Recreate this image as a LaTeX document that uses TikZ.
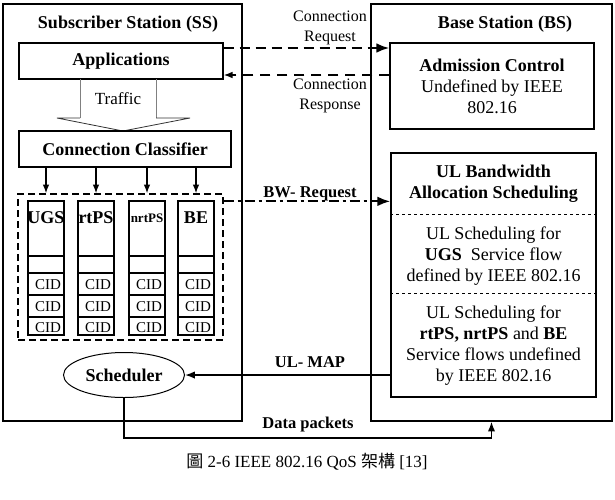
\documentclass[tikz,border=0pt]{standalone}
\usepackage{fontspec}
\setmainfont{Liberation Serif}
\newfontfamily\cjk{Noto Sans CJK TC}
\usetikzlibrary{arrows.meta}
\usetikzlibrary{shapes.geometric}

\tikzset{
  block/.style={draw, line width=1.3pt, inner sep=0pt, align=center},
  big/.style={font=\fontsize{18}{21}\selectfont, align=center},
  bigb/.style={font=\fontsize{18}{21}\selectfont\bfseries, align=center},
  lab/.style={font=\fontsize{16}{20}\selectfont, align=center},
  labb/.style={font=\fontsize{16.5}{20}\selectfont\bfseries},
  cid/.style={font=\fontsize{15}{15}\selectfont, inner sep=0pt}
}

\begin{document}
\begin{tikzpicture}[x=1pt,y=-1pt]
  \useasboundingbox (0,0) rectangle (615,499);
  % subscriber station side
  \node[block, minimum width=239pt, minimum height=417pt] (ss) at (122.5,212.5) {};
  \node[bigb] (sstitle) at (128,24) {Subscriber Station (SS)};
  \node[block, bigb, minimum width=204pt, minimum height=36pt] (app) at (121,61) {Applications};
  \draw[gray, line width=0.8pt] (80,79) -- (80,118) (156,118) -- (156,79);
  \draw[black!80, line width=0.8pt] (80,118) -- (57,118) -- (123,131) -- (190,118) -- (156,118);
  \node[font=\fontsize{17}{20}\selectfont] (traffic) at (118,99) {Traffic};
  \node[block, bigb, minimum width=212pt, minimum height=36pt] (cls) at (125,149) {Connection Classifier};
  \node[block, dash pattern=on 7pt off 4pt, minimum width=205pt, minimum height=146pt] (queues) at (120.5,267) {};
  \foreach \q/\x/\name/\fs in {ugs/46/UGS/18, rtps/96/rtPS/18, nrtps/147/nrtPS/13, be/196/BE/18} {
    \node[block, minimum width=36pt, minimum height=134pt] (\q) at (\x,268) {};
    \node[font=\fontsize{\fs}{\fs}\selectfont\bfseries] (\q-name) at (\x,218) {\name};
    \foreach \y in {256,273,295,317}
      \draw[line width=1.3pt] (\q.west |- 0,\y) -- (\q.east |- 0,\y);
    \foreach \y [count=\i] in {285,307,328}
      \node[cid] (\q-cid\i) at (\x+2,\y) {CID};
    \draw[-{Latex}, line width=1.3pt] (cls.south -| \q) -- (queues.north -| \q);
  }
  \node[draw, ellipse, line width=1pt, bigb, inner sep=0pt, minimum width=121pt, minimum height=45pt] (sched) at (124,375) {Scheduler};

  % base station side
  \node[block, minimum width=241pt, minimum height=417pt] (bs) at (491.5,212.5) {};
  \node[bigb] (bstitle) at (505,24) {Base Station (BS)};
  \node[block, minimum width=204pt, minimum height=86pt] (adm) at (492,86) {};
  \node[big] (admtext) at (adm) {\textbf{Admission Control}\\Undefined by IEEE\\802.16};
  \node[block, minimum width=205pt, minimum height=244pt] (ul) at (493.5,275) {};
  \draw[dashed, line width=1pt] (ul.west |- 0,214) -- (ul.east |- 0,214);
  \draw[dashed, line width=1pt] (ul.west |- 0,293) -- (ul.east |- 0,293);
  \node[bigb] (ultitle) at (493.5,184) {UL Bandwidth\\Allocation Scheduling};
  \node[big] (ugsflow) at (493.5,256) {UL Scheduling for\\\textbf{UGS}\ \ Service flow\\defined by IEEE 802.16};
  \node[big] (otherflow) at (493.5,346) {UL Scheduling for\\\textbf{rtPS, nrtPS} and \textbf{BE}\\Service flows undefined\\by IEEE 802.16};

  % messages between SS and BS
  \draw[line width=2.2pt, dash pattern=on 10pt off 6pt, -{Latex}] ([yshift=13pt]app.east) -- ([yshift=13pt]app.east -| adm.west);
  \draw[line width=1.3pt, dash pattern=on 10pt off 7pt, -{Latex}] ([yshift=-14pt]app.east -| adm.west) -- ([yshift=-14pt]app.east);
  \draw[line width=2.2pt, dash pattern=on 10pt off 4pt on 3pt off 4pt, -{Latex}] ([yshift=-8pt]queues.north east) -- ([yshift=-8pt]queues.north east -| ul.west);
  \draw[line width=1.5pt, -{Latex}] (sched.east -| ul.west) -- (sched.east);
  \draw[line width=1.5pt, -{Latex}] (sched.south) -- ++(0,40) -| (bs.south);
  \node[lab] (reqlab) at (330,28) {Connection\\Request};
  \node[lab] (resplab) at (330,96) {Connection\\Response};
  \node[labb] (bwlab) at (310,194) {BW- Request};
  \node[labb] (maplab) at (310,362) {UL- MAP};
  \node[labb] (datalab) at (308,425) {Data packets};

  \node[font=\fontsize{17}{20}\selectfont] (caption) at (307,462) {{\cjk 圖}\ 2-6 IEEE 802.16 QoS {\cjk 架構}\ [13]};
\end{tikzpicture}
\end{document}
